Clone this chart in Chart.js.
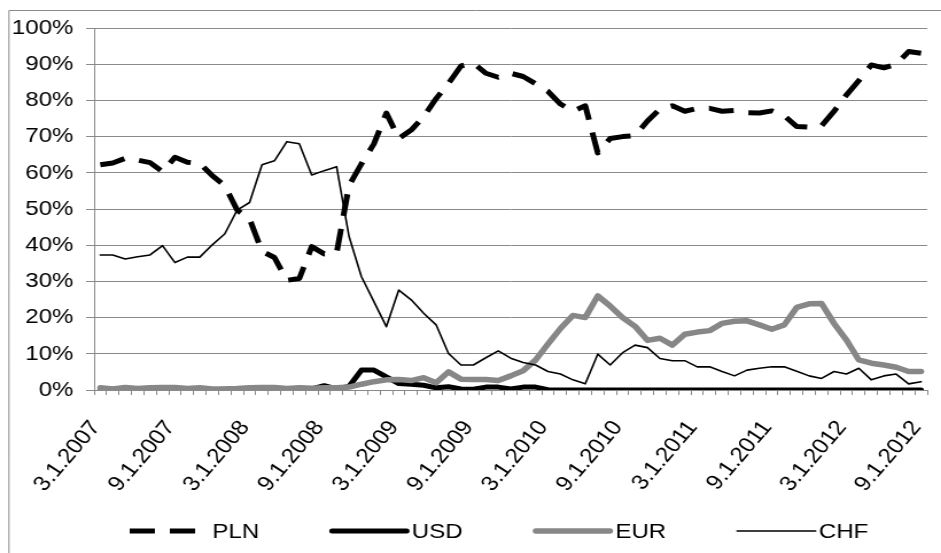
<!DOCTYPE html>
<html>
<head>
<meta charset="utf-8">
<script src="https://cdn.jsdelivr.net/npm/chart.js@4/dist/chart.umd.min.js"></script>
<style>
  html, body { margin: 0; padding: 0; background: #fff; overflow: hidden; }
  #wrap { width: 820px; height: 553px; transform: scaleX(1.1476); transform-origin: 0 0; }
  canvas { display: block; }
</style>
</head>
<body>
<div id="wrap"><canvas id="c" width="820" height="553"></canvas></div>
<script>
// ---- data (shares in %) ----
const categories = (function () {
  const out = [];
  let m = 3, y = 2007;
  for (let i = 0; i < 67; i++) {
    out.push(m + '.1.' + y);
    m++; if (m > 12) { m = 1; y++; }
  }
  return out;
})();

const seriesNames = ['PLN', 'USD', 'EUR', 'CHF'];

const plnValues = [62.2,62.7,64.0,63.5,62.8,60.3,64.3,62.9,62.6,59.2,56.5,49.7,47.3,38.3,36.6,30.3,30.8,39.6,37.6,37.8,
  56.5,62.5,68.0,76.5,69.5,71.8,75.5,80.5,84.7,89.5,90.3,87.5,86.4,87.5,86.6,84.6,82.5,79.0,77.0,78.5,
  65.5,69.5,70.0,70.3,74.3,77.6,78.5,77.0,77.8,77.8,77.0,77.2,76.6,76.5,77.1,75.8,72.8,72.6,73.0,77.0,
  81.5,85.5,89.8,89.0,90.0,93.5,93.0];

const usdValues = [0.1,0.2,0.1,0.2,0.3,0.2,0.3,0.1,0.2,0.1,0.2,0.3,0.2,0.3,0.2,0.3,0.4,0.3,1.2,0.3,
  1.0,5.5,5.5,3.6,1.8,1.6,1.3,0.6,0.9,0.3,0.2,0.8,0.8,0.3,0.8,0.8,0.1,0,0,0,
  0,0,0,0,0,0,0,0,0,0,0,0,0,0,0,0,0,0,0,0,
  0,0,0,0,0,0,0];

const eurValues = [0.6,0.3,0.7,0.4,0.6,0.7,0.7,0.4,0.6,0.3,0.3,0.4,0.6,0.7,0.7,0.4,0.6,0.5,0.6,0.6,
  0.8,1.6,2.3,2.8,2.9,2.6,3.4,2.0,5.0,3.0,2.9,2.9,2.6,3.9,5.3,8.3,12.7,17.0,20.6,20.0,
  26.0,23.2,20.0,17.6,13.7,14.3,12.4,15.4,16.0,16.4,18.4,19.0,19.1,18.0,16.8,18.0,22.8,23.8,23.9,18.4,
  13.8,8.3,7.4,6.9,6.3,5.1,5.1];

const chfValues = [37.3,37.3,36.2,36.8,37.3,39.9,35.2,36.7,36.7,40.1,43.1,49.7,51.8,62.2,63.3,68.6,68.0,59.4,60.6,61.7,
  42.4,31.3,24.4,17.5,27.6,24.9,21.2,18.0,10.1,6.9,6.9,8.9,10.8,8.8,7.6,6.9,5.1,4.4,2.8,1.7,
  9.9,6.9,10.3,12.4,11.7,8.7,8.1,8.1,6.4,6.4,5.1,3.9,5.5,6.0,6.4,6.4,5.2,3.9,3.2,5.1,
  4.4,6.0,2.8,3.9,4.4,1.7,2.3];

const yTickStep = 10;
const labelEvery = 6;

// ---- styles ----
const FONT = '"Liberation Sans", Arial, Helvetica, sans-serif';
const GRID = '#8a8a8a';

const datasets = [
  { label: seriesNames[0], data: plnValues, borderColor: '#000', borderWidth: 5, borderDash: [22, 13], borderCapStyle: 'butt', order: 3 },
  { label: seriesNames[1], data: usdValues, borderColor: '#000', borderWidth: 5, borderCapStyle: 'round', order: 2 },
  { label: seriesNames[2], data: eurValues, borderColor: '#878787', borderWidth: 5.5, borderCapStyle: 'round', order: 1 },
  { label: seriesNames[3], data: chfValues, borderColor: '#000', borderWidth: 1.6, borderCapStyle: 'round', order: 0 }
].map(d => Object.assign({ fill: false, pointRadius: 0, tension: 0, borderJoinStyle: 'round' }, d));

const framePlugin = {
  id: 'frame',
  beforeDraw(chart) {
    const ctx = chart.ctx;
    ctx.save();
    ctx.fillStyle = '#fff';
    ctx.fillRect(0, 0, chart.width, chart.height);
    ctx.strokeStyle = GRID;
    ctx.lineWidth = 1;
    ctx.beginPath();
    ctx.moveTo(7.8, chart.height + 5);
    ctx.lineTo(7.8, 10.5);
    ctx.lineTo(chart.width + 5, 10.5);
    ctx.stroke();
    ctx.restore();
  },
  afterDraw(chart) {
    const ctx = chart.ctx;
    ctx.save();
    ctx.font = '21px ' + FONT;
    ctx.textBaseline = 'middle';
    ctx.textAlign = 'left';
    const y = 531;
    let x = 113;
    chart.data.datasets.forEach(ds => {
      ctx.save();
      ctx.strokeStyle = ds.borderColor;
      ctx.lineWidth = ds.borderWidth;
      ctx.lineCap = ds.borderCapStyle;
      ctx.setLineDash(ds.borderDash || []);
      const inset = ds.borderCapStyle === 'round' ? ds.borderWidth / 2 : 0;
      ctx.beginPath();
      ctx.moveTo(x + inset, y);
      ctx.lineTo(x + 70 - inset, y);
      ctx.stroke();
      ctx.restore();
      ctx.fillStyle = '#000';
      ctx.fillText(ds.label, x + 72, y + 1);
      x += 72 + ctx.measureText(ds.label).width + 61;
    });
    ctx.restore();
  }
};

new Chart(document.getElementById('c'), {
  type: 'line',
  data: { labels: categories, datasets: datasets },
  plugins: [framePlugin],
  options: {
    responsive: false,
    animation: false,
    devicePixelRatio: 1,
    layout: { padding: { top: 28, right: 12, bottom: 0, left: 0 } },
    plugins: { legend: { display: false }, tooltip: { enabled: false } },
    scales: {
      x: {
        type: 'category',
        offset: true,
        grid: { offset: true, drawOnChartArea: false, drawTicks: true, tickLength: 5, color: GRID },
        border: { color: GRID },
        ticks: {
          autoSkip: false, maxRotation: 53, minRotation: 53, padding: 21, labelOffset: -4, color: '#000',
          font: { family: FONT, size: 21 },
          callback(v, i) { return i % labelEvery === 0 ? this.getLabelForValue(v) : ''; }
        },
        afterFit(s) { s.height = 163; s.paddingLeft = 0; s.paddingRight = 0; }
      },
      y: {
        min: 0, max: 100,
        ticks: { stepSize: yTickStep, padding: 11, color: '#000', font: { family: FONT, size: 21 }, callback: v => v + '%' },
        grid: { color: GRID, tickLength: 7 },
        border: { color: GRID },
        afterFit(s) { s.width = 82; }
      }
    }
  }
});
</script>
</body>
</html>
